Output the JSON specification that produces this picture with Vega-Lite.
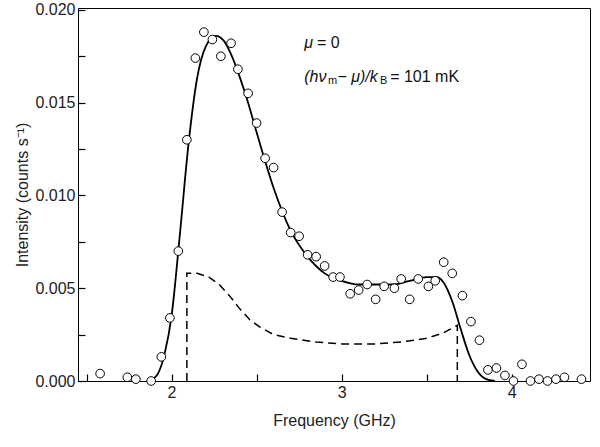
{
  "$schema": "https://vega.github.io/schema/vega-lite/v6.json",
  "width": 512,
  "height": 373,
  "autosize": "none",
  "padding": {"left": 78, "top": 8, "right": 10, "bottom": 66},
  "config": {
    "font": "Liberation Sans",
    "view": {"stroke": "black", "strokeWidth": 1},
    "axis": {"labelFontSize": 16, "titleFontSize": 16, "labelColor": "#222", "titleColor": "#222", "domain": false, "grid": true, "gridColor": "black", "gridOpacity": 0, "ticks": true, "tickColor": "#000000", "tickOpacity": 1, "tickWidth": 1.2, "tickSize": -7, "labelPadding": 10, "titleFontWeight": "normal", "zindex": 1},
    "text": {"font": "Liberation Sans", "color": "#111", "align": "left", "baseline": "middle"}
  },
  "datasets": {
    "obs": [
      {"f": 1.58, "v": 0.0004}, {"f": 1.74, "v": 0.0002}, {"f": 1.79, "v": 0.0001}, {"f": 1.88, "v": 0.0},
      {"f": 1.94, "v": 0.0013}, {"f": 1.99, "v": 0.0034}, {"f": 2.04, "v": 0.0070}, {"f": 2.09, "v": 0.0130},
      {"f": 2.14, "v": 0.0174}, {"f": 2.19, "v": 0.0188}, {"f": 2.24, "v": 0.0184}, {"f": 2.29, "v": 0.0175},
      {"f": 2.35, "v": 0.0182}, {"f": 2.39, "v": 0.0168}, {"f": 2.45, "v": 0.0155}, {"f": 2.50, "v": 0.0139},
      {"f": 2.55, "v": 0.0120}, {"f": 2.60, "v": 0.0115}, {"f": 2.65, "v": 0.0091}, {"f": 2.70, "v": 0.0080},
      {"f": 2.75, "v": 0.0078}, {"f": 2.80, "v": 0.0068}, {"f": 2.85, "v": 0.0067}, {"f": 2.90, "v": 0.0062},
      {"f": 2.95, "v": 0.0056}, {"f": 2.99, "v": 0.0056}, {"f": 3.05, "v": 0.0047}, {"f": 3.10, "v": 0.0049},
      {"f": 3.15, "v": 0.0052}, {"f": 3.20, "v": 0.0044}, {"f": 3.25, "v": 0.0051}, {"f": 3.31, "v": 0.0050},
      {"f": 3.35, "v": 0.0055}, {"f": 3.40, "v": 0.0044}, {"f": 3.45, "v": 0.0055}, {"f": 3.51, "v": 0.0051},
      {"f": 3.55, "v": 0.0054}, {"f": 3.60, "v": 0.0064}, {"f": 3.65, "v": 0.0058}, {"f": 3.71, "v": 0.0046},
      {"f": 3.76, "v": 0.0032}, {"f": 3.81, "v": 0.0022}, {"f": 3.86, "v": 0.0006}, {"f": 3.91, "v": 0.0007},
      {"f": 3.96, "v": 0.0003}, {"f": 4.01, "v": 0.0}, {"f": 4.06, "v": 0.0009}, {"f": 4.11, "v": 0.0},
      {"f": 4.16, "v": 0.0001}, {"f": 4.21, "v": 0.0}, {"f": 4.26, "v": 0.0001}, {"f": 4.31, "v": 0.0002},
      {"f": 4.41, "v": 0.0001}
    ],
    "fit": [
      {"f": 1.87, "v": 0.0}, {"f": 1.92, "v": 0.0004}, {"f": 1.96, "v": 0.0015}, {"f": 2.0, "v": 0.0035},
      {"f": 2.05, "v": 0.0080}, {"f": 2.1, "v": 0.0128}, {"f": 2.15, "v": 0.0163}, {"f": 2.2, "v": 0.0180},
      {"f": 2.26, "v": 0.0186}, {"f": 2.31, "v": 0.0183}, {"f": 2.35, "v": 0.0176}, {"f": 2.4, "v": 0.0164},
      {"f": 2.45, "v": 0.0150}, {"f": 2.5, "v": 0.0134}, {"f": 2.6, "v": 0.0104}, {"f": 2.7, "v": 0.0081},
      {"f": 2.8, "v": 0.0067}, {"f": 2.9, "v": 0.0058}, {"f": 3.0, "v": 0.0054}, {"f": 3.1, "v": 0.0052},
      {"f": 3.2, "v": 0.0052}, {"f": 3.3, "v": 0.0052}, {"f": 3.4, "v": 0.0054}, {"f": 3.5, "v": 0.0056},
      {"f": 3.56, "v": 0.0056}, {"f": 3.6, "v": 0.0053}, {"f": 3.65, "v": 0.0043}, {"f": 3.7, "v": 0.0028},
      {"f": 3.75, "v": 0.0014}, {"f": 3.8, "v": 0.0005}, {"f": 3.85, "v": 0.0001}, {"f": 3.9, "v": 0.0}
    ],
    "dash": [
      {"o": 1, "f": 2.09, "v": 0.0}, {"o": 2, "f": 2.09, "v": 0.0058}, {"o": 3, "f": 2.15, "v": 0.0058},
      {"o": 4, "f": 2.22, "v": 0.0056}, {"o": 5, "f": 2.28, "v": 0.0052}, {"o": 6, "f": 2.34, "v": 0.0046},
      {"o": 7, "f": 2.4, "v": 0.0039}, {"o": 8, "f": 2.46, "v": 0.0033}, {"o": 9, "f": 2.52, "v": 0.0029},
      {"o": 10, "f": 2.6, "v": 0.0025}, {"o": 11, "f": 2.7, "v": 0.0023}, {"o": 12, "f": 2.85, "v": 0.0021},
      {"o": 13, "f": 3.0, "v": 0.0020}, {"o": 14, "f": 3.2, "v": 0.0020}, {"o": 15, "f": 3.35, "v": 0.0021},
      {"o": 16, "f": 3.5, "v": 0.0023}, {"o": 17, "f": 3.6, "v": 0.0026}, {"o": 18, "f": 3.68, "v": 0.0030},
      {"o": 19, "f": 3.68, "v": 0.0}
    ],
    "italic": [
      {"f": 2.78, "v": 0.0182, "t": "μ"},
      {"f": 2.78, "v": 0.0164, "t": "(hν"},
      {"f": 2.975, "v": 0.0164, "t": "− μ)/k"}
    ],
    "plain": [
      {"f": 2.855, "v": 0.0182, "t": "= 0"},
      {"f": 3.285, "v": 0.0164, "t": "= 101 mK"}
    ],
    "sub": [
      {"f": 2.92, "v": 0.01615, "t": "m"},
      {"f": 3.225, "v": 0.01615, "t": "B"}
    ]
  },
  "layer": [
    {
      "data": {"name": "dash"},
      "mark": {"type": "line", "color": "black", "strokeWidth": 1.5, "strokeDash": [8, 5]},
      "encoding": {
        "x": {"field": "f", "type": "quantitative", "scale": {"domain": [1.45, 4.46], "nice": false},
          "axis": {"values": [1.5, 2, 2.5, 3, 3.5, 4], "labelExpr": "datum.value % 1 == 0 ? format(datum.value, 'd') : ''", "title": "Frequency (GHz)", "titlePadding": 12}},
        "y": {"field": "v", "type": "quantitative", "scale": {"domain": [0, 0.0201], "nice": false},
          "axis": {"values": [0, 0.0025, 0.005, 0.0075, 0.01, 0.0125, 0.015, 0.0175, 0.02], "format": ".3f", "labelExpr": "round(datum.value * 10000) % 50 == 0 ? datum.label : ''", "title": "Intensity (counts s⁻¹)", "titlePadding": 4}},
        "order": {"field": "o", "type": "quantitative"}
      }
    },
    {
      "data": {"name": "fit"},
      "mark": {"type": "line", "color": "black", "strokeWidth": 1.8, "interpolate": "monotone"},
      "encoding": {
        "x": {"field": "f", "type": "quantitative"},
        "y": {"field": "v", "type": "quantitative"}
      }
    },
    {
      "data": {"name": "obs"},
      "mark": {"type": "point", "shape": "circle", "size": 75, "stroke": "black", "strokeWidth": 1, "fill": "white", "filled": false, "opacity": 1},
      "encoding": {
        "x": {"field": "f", "type": "quantitative"},
        "y": {"field": "v", "type": "quantitative"}
      }
    },
    {
      "data": {"name": "italic"},
      "mark": {"type": "text", "fontSize": 16, "fontStyle": "italic"},
      "encoding": {"x": {"field": "f", "type": "quantitative"}, "y": {"field": "v", "type": "quantitative"}, "text": {"field": "t"}}
    },
    {
      "data": {"name": "plain"},
      "mark": {"type": "text", "fontSize": 16},
      "encoding": {"x": {"field": "f", "type": "quantitative"}, "y": {"field": "v", "type": "quantitative"}, "text": {"field": "t"}}
    },
    {
      "data": {"name": "sub"},
      "mark": {"type": "text", "fontSize": 11},
      "encoding": {"x": {"field": "f", "type": "quantitative"}, "y": {"field": "v", "type": "quantitative"}, "text": {"field": "t"}}
    }
  ]
}
